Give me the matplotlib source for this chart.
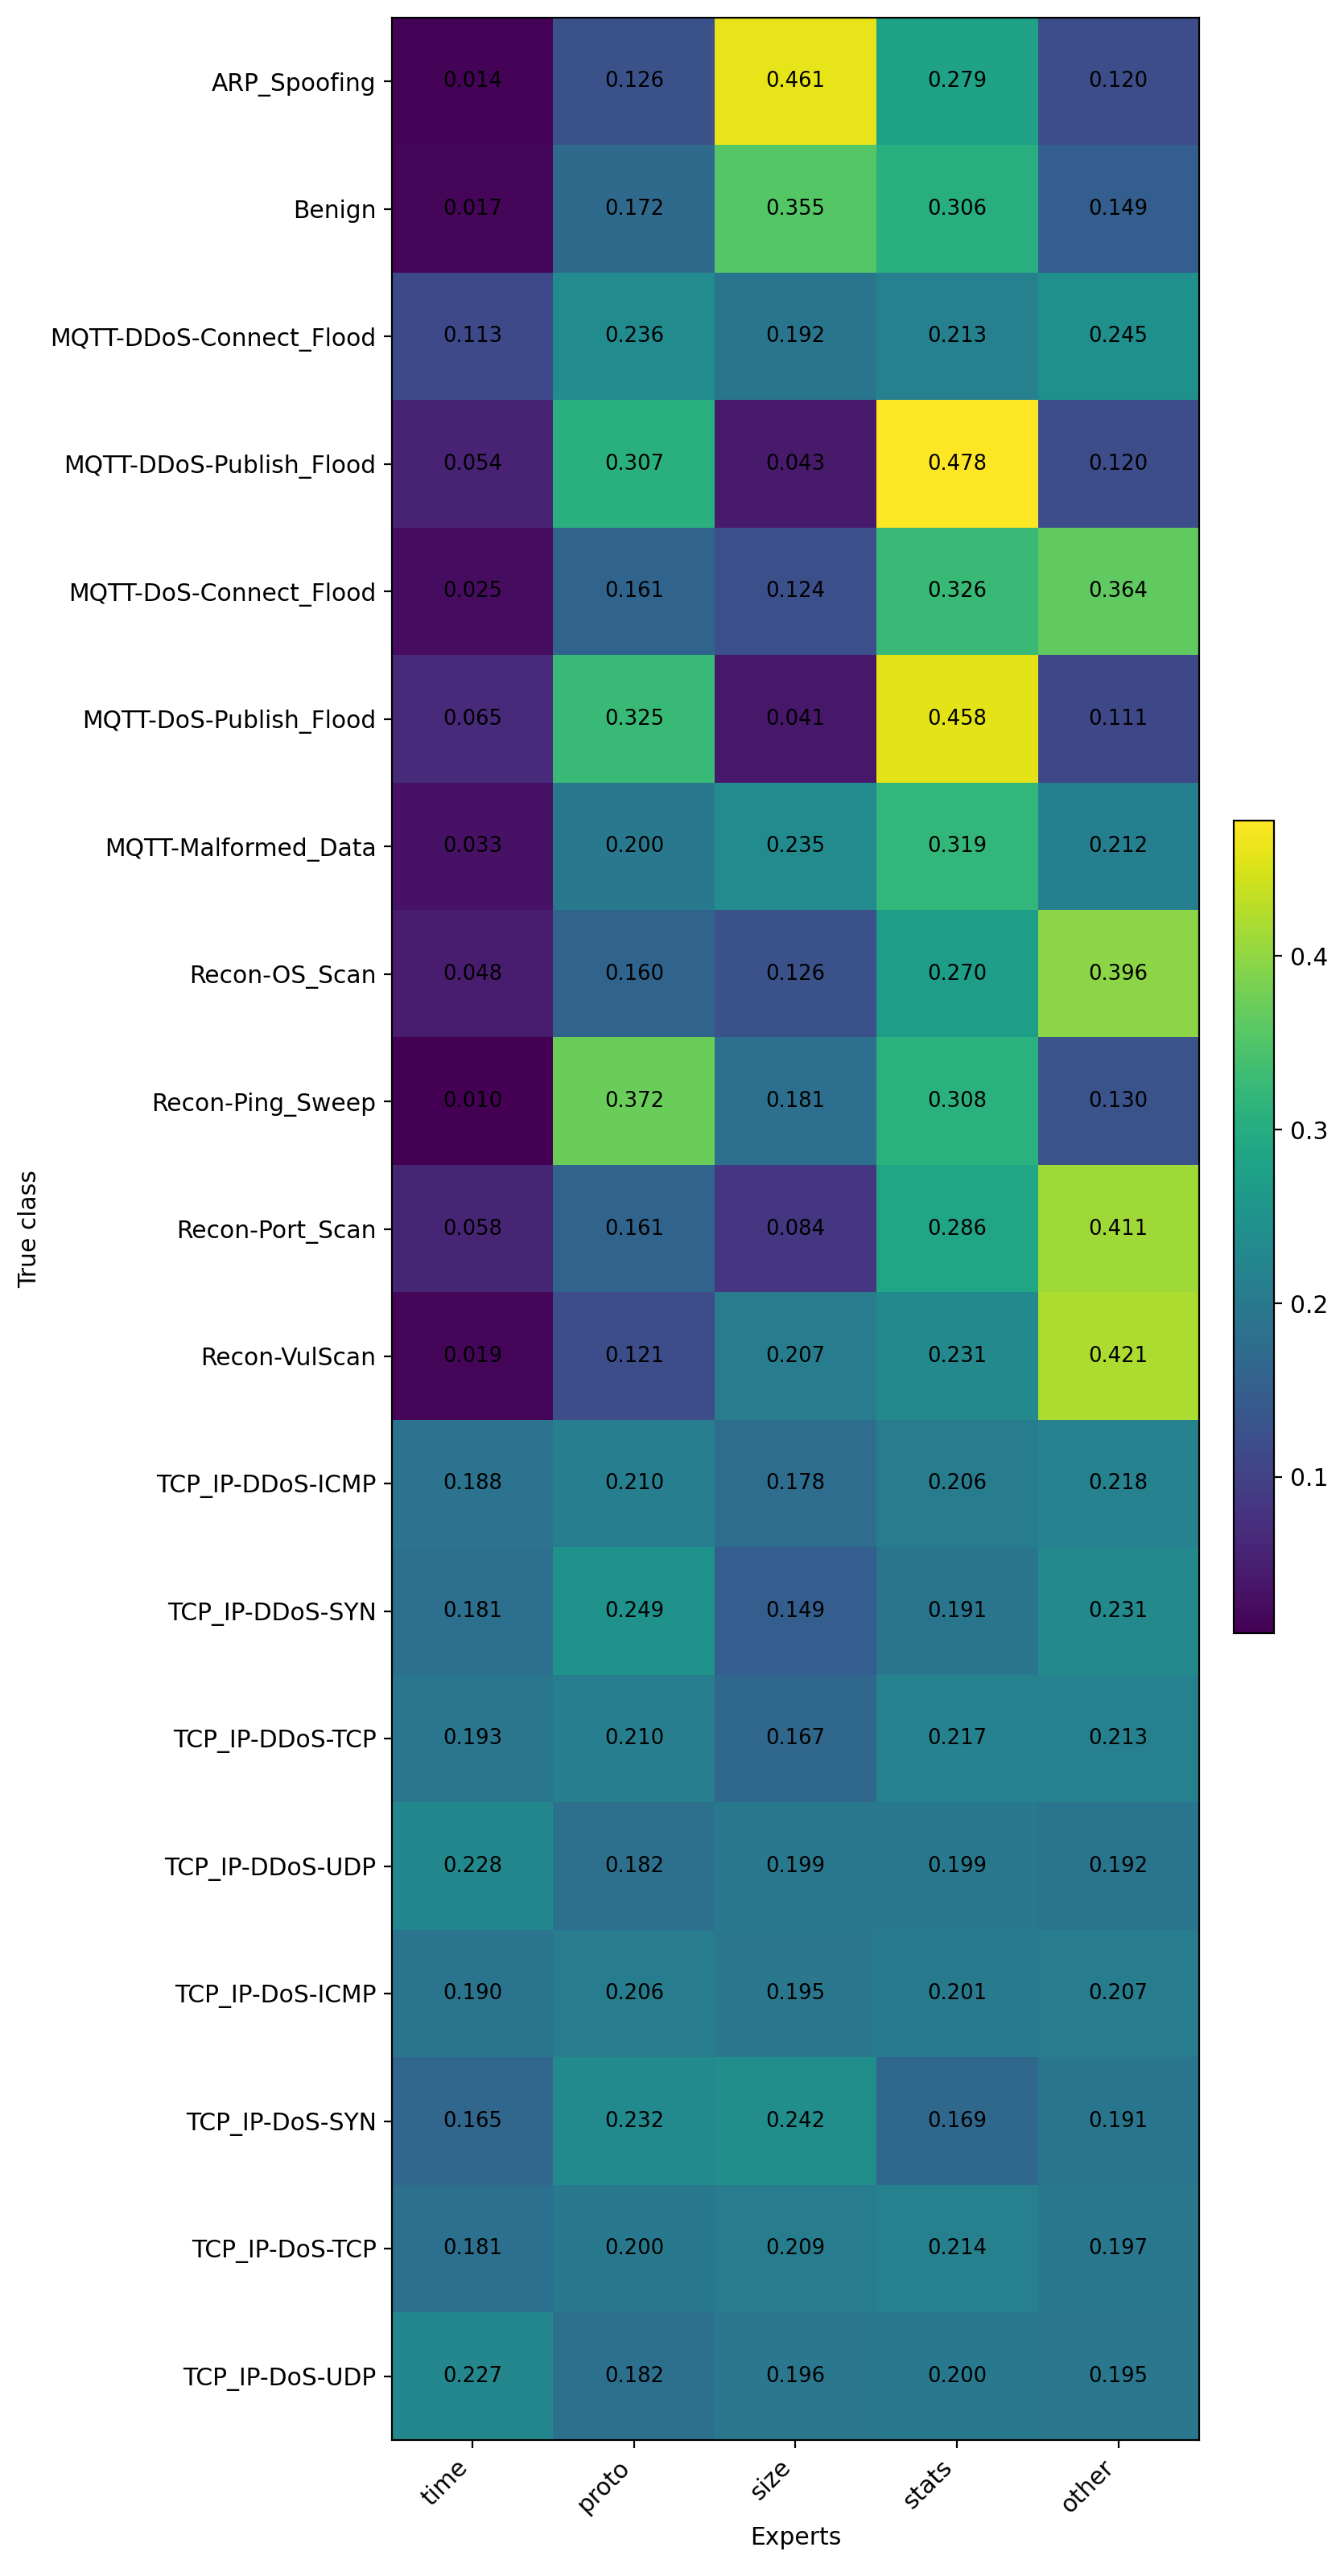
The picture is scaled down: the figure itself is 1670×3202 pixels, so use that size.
import numpy as np
import matplotlib
matplotlib.use("Agg")
import matplotlib.pyplot as plt

classes = ["ARP_Spoofing", "Benign", "MQTT-DDoS-Connect_Flood", "MQTT-DDoS-Publish_Flood",
           "MQTT-DoS-Connect_Flood", "MQTT-DoS-Publish_Flood", "MQTT-Malformed_Data",
           "Recon-OS_Scan", "Recon-Ping_Sweep", "Recon-Port_Scan", "Recon-VulScan",
           "TCP_IP-DDoS-ICMP", "TCP_IP-DDoS-SYN", "TCP_IP-DDoS-TCP", "TCP_IP-DDoS-UDP",
           "TCP_IP-DoS-ICMP", "TCP_IP-DoS-SYN", "TCP_IP-DoS-TCP", "TCP_IP-DoS-UDP"]
experts = ["time", "proto", "size", "stats", "other"]

time_w  = [0.014, 0.017, 0.113, 0.054, 0.025, 0.065, 0.033, 0.048, 0.010, 0.058, 0.019,
           0.188, 0.181, 0.193, 0.228, 0.190, 0.165, 0.181, 0.227]
proto_w = [0.126, 0.172, 0.236, 0.307, 0.161, 0.325, 0.200, 0.160, 0.372, 0.161, 0.121,
           0.210, 0.249, 0.210, 0.182, 0.206, 0.232, 0.200, 0.182]
size_w  = [0.461, 0.355, 0.192, 0.043, 0.124, 0.041, 0.235, 0.126, 0.181, 0.084, 0.207,
           0.178, 0.149, 0.167, 0.199, 0.195, 0.242, 0.209, 0.196]
stats_w = [0.279, 0.306, 0.213, 0.478, 0.326, 0.458, 0.319, 0.270, 0.308, 0.286, 0.231,
           0.206, 0.191, 0.217, 0.199, 0.201, 0.169, 0.214, 0.200]
other_w = [0.120, 0.149, 0.245, 0.120, 0.364, 0.111, 0.212, 0.396, 0.130, 0.411, 0.421,
           0.218, 0.231, 0.213, 0.192, 0.207, 0.191, 0.197, 0.195]

data = np.array([time_w, proto_w, size_w, stats_w, other_w]).T

plt.rcParams["font.size"] = 10.7

fig = plt.figure(figsize=(8.35, 16.01), dpi=200)
ax = fig.add_axes([0.2916, 0.0528, 0.6006, 0.9403])
im = ax.imshow(data, cmap="viridis", aspect="auto")
ax.set_xticks(range(len(experts)))
ax.set_xticklabels(experts, rotation=45, ha="right")
ax.set_yticks(range(len(classes)))
ax.set_yticklabels(classes)
ax.set_xlabel("Experts")
ax.set_ylabel("True class")
for i in range(data.shape[0]):
    for j in range(data.shape[1]):
        ax.text(j, i, f"{data[i, j]:.3f}", ha="center", va="center", fontsize=9.3, color="black")

cax = fig.add_axes([0.918, 0.366, 0.030, 0.3154])
fig.colorbar(im, cax=cax)

fig.savefig("out.png", dpi=200)
